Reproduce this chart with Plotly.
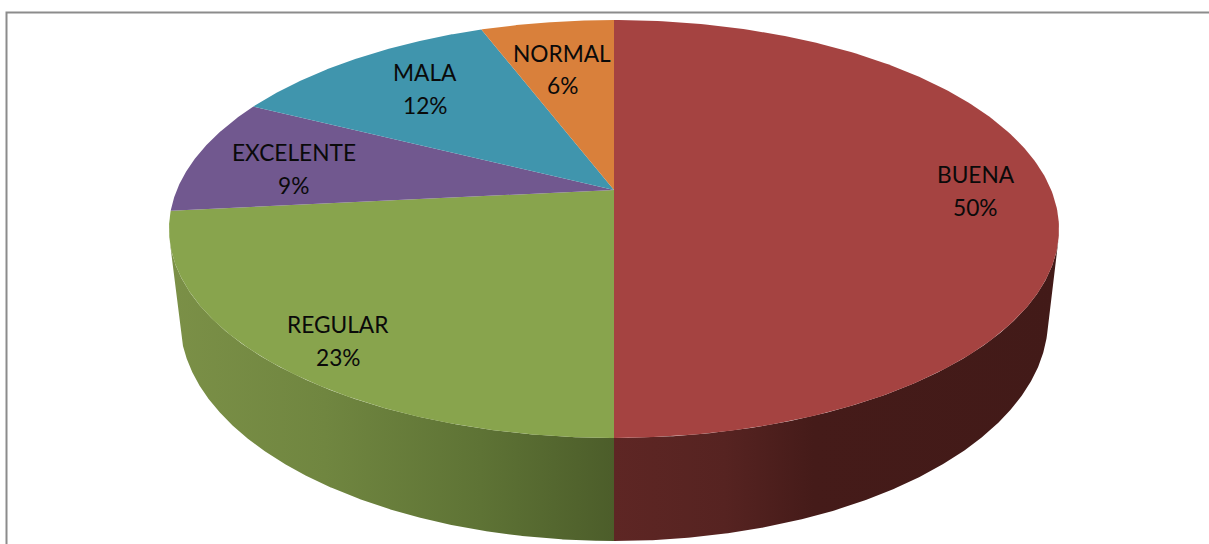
import numpy as np
import plotly.graph_objects as go

categories = ["BUENA", "REGULAR", "EXCELENTE", "MALA", "NORMAL"]
values = [50, 23.4, 9.0, 11.8, 5.8]
percent_labels = ["50%", "23%", "9%", "12%", "6%"]
top_colors = ["#A54341", "#88A44D", "#71588F", "#4095AD", "#D9803B"]

# pie geometry in pixel-like axis units (perspective projected disc)
CX = 614
TOP_Y, APEX_Y, NEAR_Y, TOP_RX = 20, 190, 438, 445
BOT_FAR_Y, BOT_NEAR_Y, BOT_RX = 99, 541, 434
K = ((NEAR_Y - APEX_Y) - (APEX_Y - TOP_Y)) / (NEAR_Y - TOP_Y)
SIL = 0.115  # slope of the silhouette lines joining both rims

label_pos = {
    "BUENA": (975.5, 174, 207),
    "REGULAR": (338, 324, 357),
    "EXCELENTE": (293.5, 152, 185),
    "MALA": (425, 72, 105),
    "NORMAL": (562, 53, 85),
}


def rim(theta, far_y, near_y, rx):
    u, v = np.sin(theta), np.cos(theta)
    b = (near_y - far_y) / 2 * (1 - K * K)
    y0 = near_y - b / (1 - K)
    a = rx * np.sqrt(1 - K * K)
    d = 1 + K * v
    return CX + a * u / d, y0 - b * v / d


def top_rim(theta):
    return rim(theta, TOP_Y, NEAR_Y, TOP_RX)


def bot_rim(theta):
    return rim(theta, BOT_FAR_Y, BOT_NEAR_Y, BOT_RX)


fractions = np.array(values) / sum(values)
edges = np.concatenate([[0], np.cumsum(fractions)]) * 2 * np.pi

fig = go.Figure()


def wall(lo, hi, sign, scale):
    grid = np.linspace(lo, hi, 600)
    tx, ty = top_rim(grid)
    bx, by = bot_rim(grid)
    ti = np.argmax(sign * (tx - CX) + SIL * ty)
    bi = np.argmax(sign * (bx - CX) + SIL * by)
    # keep only the part of each rim facing the viewer
    t_mask = grid >= grid[ti] if sign > 0 else grid <= grid[ti]
    b_mask = grid >= grid[bi] if sign > 0 else grid <= grid[bi]
    xs = np.concatenate([tx[t_mask], bx[b_mask][::-1]])
    ys = np.concatenate([ty[t_mask], by[b_mask][::-1]])
    fig.add_trace(go.Scatter(
        x=xs, y=ys, mode="lines", fill="toself", line=dict(width=0),
        fillgradient=dict(type="horizontal", colorscale=scale),
        hoverinfo="skip", showlegend=False))


# outer walls of the two slices that reach the front
wall(edges[0], edges[1], 1, [
    [0.0, "#5E2624"], [0.25, "#562321"], [0.45, "#451B19"], [1.0, "#421A18"]])
wall(edges[1], edges[2], -1, [
    [0.0, "#7B9047"], [0.35, "#708640"], [0.7, "#5E7335"], [1.0, "#4C5D2A"]])

# top faces
for i, name in enumerate(categories):
    th = np.linspace(edges[i], edges[i + 1], 240)
    x, y = top_rim(th)
    fig.add_trace(go.Scatter(
        x=np.concatenate([[CX], x, [CX]]),
        y=np.concatenate([[APEX_Y], y, [APEX_Y]]),
        mode="lines", fill="toself", fillcolor=top_colors[i],
        line=dict(width=0), name=name, hoverinfo="name", showlegend=False))

annotations = []
for name, pct in zip(categories, percent_labels):
    lx, y1, y2 = label_pos[name]
    for text, ly in ((name, y1), (pct, y2)):
        annotations.append(dict(
            x=lx, y=ly, xref="x", yref="y", text=text, showarrow=False,
            xanchor="center", yanchor="middle",
            font=dict(family="Lato", size=22.7, color="#0A0A0A")))

frame = dict(type="path", path="M 6.5 544 L 6.5 12.5 L 1209 12.5",
             xref="x", yref="y", line=dict(color="#8C8C8C", width=2))

fig.update_layout(
    width=1209, height=544, margin=dict(l=0, r=0, t=0, b=0),
    paper_bgcolor="white", plot_bgcolor="white",
    xaxis=dict(visible=False, range=[0, 1209], fixedrange=True),
    yaxis=dict(visible=False, range=[544, 0], fixedrange=True),
    annotations=annotations, shapes=[frame], showlegend=False)

fig.write_html("out.html", config=dict(displayModeBar=False),
               post_script="document.body.style.margin='0';document.documentElement.style.overflow='hidden';")
